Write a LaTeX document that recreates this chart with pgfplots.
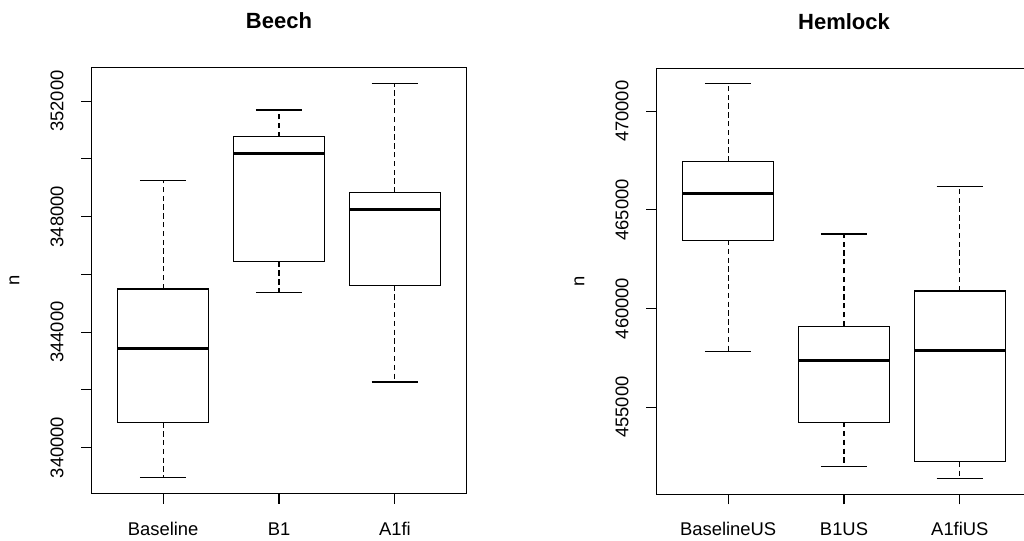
\documentclass[border=0pt]{standalone}
\usepackage{fontspec}
\setmainfont{Liberation Sans}
\usepackage{pgfplots}
\pgfplotsset{compat=1.18}

\pgfplotsset{
  rpanel/.style={
    scale only axis,
    width=281.55pt,
    xmin=0.38, xmax=3.62,
    xtick={1,2,3},
    tick pos=left,
    tick align=outside,
    major tick length=7.5pt,
    scaled y ticks=false,
    axis line style={line width=0.8pt},
    every tick/.style={black, line width=0.8pt},
    tick label style={font=\fontsize{13.8}{16}\selectfont},
    xticklabel style={anchor=base, inner sep=0pt, yshift=-23.5pt},
    yticklabel style={xshift=-13.5pt, rotate=90, anchor=base, inner sep=0pt},
    every axis y label/.style={at={(rel axis cs:0,0.5)}, xshift=-54pt, rotate=90,
      anchor=base, inner sep=0pt, font=\fontsize{13.8}{16}\selectfont},
    every axis title/.style={at={(rel axis cs:0.5,1)}, anchor=base, inner sep=0pt,
      yshift=29pt, font=\bfseries\fontsize{16.5}{19}\selectfont},
    ylabel={n},
  },
  box/.style={black, line width=0.8pt, line join=miter},
  med/.style={black, line width=2.5pt},
  wh/.style={black, line width=0.8pt, dash pattern=on 4pt off 2.6pt},
  cap/.style={black, line width=0.8pt},
}

\begin{document}
\begin{tikzpicture}
\path[use as bounding box] (0,0) rectangle (768pt,405pt);
\clip (0,0) rectangle (768pt,405pt);

% Beech
\begin{axis}[rpanel,
  at={(68.475pt,34.725pt)}, anchor=south west,
  height=319.8pt,
  ymin=338400, ymax=353170,
  ytick={340000,342000,344000,346000,348000,350000,352000},
  yticklabels={340000,,344000,,348000,,352000},
  xticklabels={Baseline,B1,A1fi},
  title={Beech}]
% Baseline: whiskers 338970 / 349240, quartiles 340870 / 345490, median 343420
\addplot[wh]  coordinates {(1,345490) (1,349240)};
\addplot[wh]  coordinates {(1,340870) (1,338970)};
\addplot[cap] coordinates {(0.8,349240) (1.2,349240)};
\addplot[cap] coordinates {(0.8,338970) (1.2,338970)};
\addplot[box] coordinates {(0.605,340870) (1.395,340870) (1.395,345490) (0.605,345490) (0.605,340870) (1.395,340870)};
\addplot[med] coordinates {(0.605,343420) (1.395,343420)};
% B1: whiskers 345360 / 351690, quartiles 346440 / 350760, median 350190
\addplot[wh]  coordinates {(2,350760) (2,351690)};
\addplot[wh]  coordinates {(2,346440) (2,345360)};
\addplot[cap] coordinates {(1.8,351690) (2.2,351690)};
\addplot[cap] coordinates {(1.8,345360) (2.2,345360)};
\addplot[box] coordinates {(1.605,346440) (2.395,346440) (2.395,350760) (1.605,350760) (1.605,346440) (2.395,346440)};
\addplot[med] coordinates {(1.605,350190) (2.395,350190)};
% A1fi: whiskers 342270 / 352620, quartiles 345610 / 348830, median 348240
\addplot[wh]  coordinates {(3,348830) (3,352620)};
\addplot[wh]  coordinates {(3,345610) (3,342270)};
\addplot[cap] coordinates {(2.8,352620) (3.2,352620)};
\addplot[cap] coordinates {(2.8,342270) (3.2,342270)};
\addplot[box] coordinates {(2.605,345610) (3.395,345610) (3.395,348830) (2.605,348830) (2.605,345610) (3.395,345610)};
\addplot[med] coordinates {(2.605,348240) (3.395,348240)};
\end{axis}

% Hemlock
\begin{axis}[rpanel,
  at={(492.225pt,34.275pt)}, anchor=south west,
  height=319.5pt,
  ymin=450580, ymax=472180,
  ytick={455000,460000,465000,470000},
  yticklabels={455000,460000,465000,470000},
  xticklabels={BaselineUS,B1US,A1fiUS},
  title={Hemlock}]
% BaselineUS: whiskers 457840 / 471390, quartiles 463470 / 467450, median 465830
\addplot[wh]  coordinates {(1,467450) (1,471390)};
\addplot[wh]  coordinates {(1,463470) (1,457840)};
\addplot[cap] coordinates {(0.8,471390) (1.2,471390)};
\addplot[cap] coordinates {(0.8,457840) (1.2,457840)};
\addplot[box] coordinates {(0.605,463470) (1.395,463470) (1.395,467450) (0.605,467450) (0.605,463470) (1.395,463470)};
\addplot[med] coordinates {(0.605,465830) (1.395,465830)};
% B1US: whiskers 452010 / 463780, quartiles 454240 / 459110, median 457370
\addplot[wh]  coordinates {(2,459110) (2,463780)};
\addplot[wh]  coordinates {(2,454240) (2,452010)};
\addplot[cap] coordinates {(1.8,463780) (2.2,463780)};
\addplot[cap] coordinates {(1.8,452010) (2.2,452010)};
\addplot[box] coordinates {(1.605,454240) (2.395,454240) (2.395,459110) (1.605,459110) (1.605,454240) (2.395,454240)};
\addplot[med] coordinates {(1.605,457370) (2.395,457370)};
% A1fiUS: whiskers 451400 / 466200, quartiles 452230 / 460890, median 457860
\addplot[wh]  coordinates {(3,460890) (3,466200)};
\addplot[wh]  coordinates {(3,452230) (3,451400)};
\addplot[cap] coordinates {(2.8,466200) (3.2,466200)};
\addplot[cap] coordinates {(2.8,451400) (3.2,451400)};
\addplot[box] coordinates {(2.605,452230) (3.395,452230) (3.395,460890) (2.605,460890) (2.605,452230) (3.395,452230)};
\addplot[med] coordinates {(2.605,457860) (3.395,457860)};
\end{axis}
\end{tikzpicture}
\end{document}
